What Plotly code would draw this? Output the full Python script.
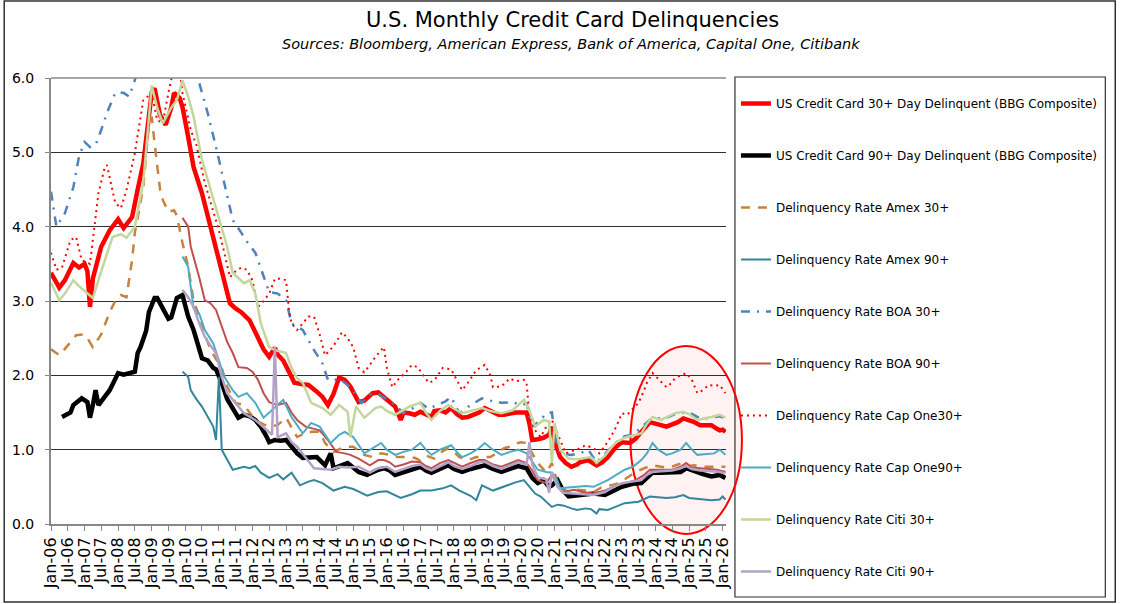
import pandas as pd
import plotly.graph_objects as go

# months counted from Jan-06 (0 = Jan-06, 12 = Jan-07, ...), values in percent
bbg30_m = [0, 3, 5, 8, 10, 12, 13, 14, 15, 18, 21, 24, 26, 29, 31, 33, 36, 37, 39, 41, 43, 44, 46, 47, 49, 51,
           54, 57, 60, 62, 64, 66, 68, 71, 74, 76, 78, 80, 81, 83, 85, 87, 90, 92, 95, 97, 99, 101, 103, 105,
           107, 110, 112, 115, 117, 119, 121, 123, 125, 126, 128, 130, 132, 134, 136, 137, 139, 141, 143, 145,
           147, 149, 151, 153, 155, 157, 160, 162, 164, 166, 168, 170, 171, 172, 174, 176, 178, 179, 180, 182,
           184, 186, 188, 189, 192, 195, 197, 199, 202, 204, 207, 209, 211, 213, 214, 216, 218, 220, 222, 224,
           226, 228, 230, 232, 234, 236, 238, 239, 240, 241]
bbg30_v = [3.38, 3.18, 3.28, 3.51, 3.45, 3.5, 3.4, 2.92, 3.3, 3.73, 3.95, 4.1, 3.98, 4.13, 4.5, 4.85, 5.81, 5.86,
           5.5, 5.37, 5.6, 5.8, 5.73, 5.61, 5.21, 4.8, 4.45, 4.0, 3.6, 3.3, 2.97, 2.9, 2.85, 2.74, 2.5, 2.35, 2.25,
           2.37, 2.28, 2.2, 2.05, 1.9, 1.88, 1.87, 1.78, 1.71, 1.6, 1.75, 1.97, 1.94, 1.85, 1.64, 1.66, 1.76,
           1.77, 1.71, 1.65, 1.58, 1.40, 1.5, 1.49, 1.47, 1.51, 1.47, 1.44, 1.52, 1.53, 1.5, 1.56, 1.48, 1.43,
           1.44, 1.47, 1.5, 1.56, 1.52, 1.47, 1.47, 1.49, 1.5, 1.5, 1.5, 1.35, 1.13, 1.14, 1.16, 1.2, 1.31, 1.1,
           0.90, 0.82, 0.77, 0.8, 0.83, 0.86, 0.79, 0.83, 0.9, 1.04, 1.1, 1.09, 1.15, 1.24, 1.32, 1.37, 1.35,
           1.33, 1.31, 1.34, 1.37, 1.42, 1.4, 1.37, 1.33, 1.33, 1.33, 1.28, 1.26, 1.27, 1.24]

bbg90_m = [4, 5, 7, 8, 10, 11, 13, 14, 15, 16, 17, 19, 21, 23, 24, 26, 28, 30, 31, 32, 34, 35, 37, 38, 40, 42,
           43, 45, 47, 49, 51, 52, 54, 56, 58, 59, 61, 63, 65, 67, 69, 71, 73, 75, 77, 78, 80, 82, 84, 86, 88,
           90, 93, 95, 98, 100, 101, 103, 106, 108, 110, 113, 115, 117, 119, 121, 123, 126, 129, 132, 134, 136,
           139, 142, 144, 147, 150, 153, 155, 158, 161, 164, 167, 170, 172, 174, 176, 178, 179, 181, 183, 185,
           188, 190, 194, 198, 201, 204, 206, 208, 211, 213, 215, 218, 220, 223, 225, 227, 229, 231, 233, 236,
           238, 239, 241]
bbg90_v = [1.44, 1.46, 1.5, 1.6, 1.65, 1.69, 1.64, 1.43, 1.6, 1.8, 1.6, 1.7, 1.8, 1.95, 2.03, 2.01, 2.03, 2.05,
           2.3, 2.38, 2.6, 2.85, 3.04, 3.04, 2.9, 2.76, 2.78, 3.04, 3.08, 2.79, 2.61, 2.5, 2.23, 2.2, 2.1, 2.08,
           1.9, 1.68, 1.55, 1.43, 1.47, 1.45, 1.4, 1.31, 1.18, 1.1, 1.13, 1.12, 1.13, 1.05, 0.95, 0.89, 0.9, 0.9,
           0.79, 0.95, 0.75, 0.78, 0.82, 0.76, 0.70, 0.66, 0.70, 0.73, 0.75, 0.72, 0.66, 0.7, 0.73, 0.77, 0.72,
           0.69, 0.74, 0.79, 0.74, 0.7, 0.74, 0.77, 0.79, 0.74, 0.7, 0.74, 0.78, 0.75, 0.62, 0.55, 0.59, 0.5,
           0.52, 0.59, 0.45, 0.37, 0.38, 0.39, 0.41, 0.39, 0.45, 0.5, 0.52, 0.54, 0.55, 0.62, 0.69, 0.69, 0.69,
           0.69, 0.7, 0.75, 0.72, 0.69, 0.67, 0.64, 0.65, 0.66, 0.62]

amex30_m = [0, 3, 6, 9, 12, 13, 15, 18, 21, 23, 25, 27, 28, 29, 30, 33, 35, 36, 37, 39, 40, 42, 44, 45, 47, 49,
            51, 53, 55, 57, 59, 61, 63, 66, 69, 71, 73, 76, 78, 81, 84, 86, 88, 91, 93, 96, 98, 101, 105, 108,
            112, 115, 118, 121, 124, 127, 130, 132, 134, 137, 140, 142, 144, 146, 149, 152, 154, 157, 160, 162,
            164, 166, 168, 170, 172, 174, 177, 179, 181, 182, 185, 188, 191, 194, 197, 200, 203, 206, 209, 212,
            215, 218, 221, 224, 226, 228, 230, 233, 236, 239, 241]
amex30_v = [2.35, 2.27, 2.4, 2.54, 2.55, 2.5, 2.38, 2.55, 2.85, 3.0, 3.08, 3.05, 3.3, 3.55, 3.92, 4.53, 5.39,
            5.48, 5.12, 4.5, 4.36, 4.2, 4.22, 4.15, 3.78, 3.46, 3.0, 2.8, 2.55, 2.35, 2.22, 2.1, 1.85, 1.63, 1.6,
            1.5, 1.4, 1.34, 1.31, 1.33, 1.43, 1.3, 1.17, 1.22, 1.24, 1.24, 1.09, 0.97, 1.04, 1.04, 0.93, 0.9,
            0.95, 0.93, 0.9, 0.9, 0.89, 0.85, 0.92, 0.88, 0.98, 1.02, 0.97, 0.9, 0.86, 0.9, 0.9, 0.9, 0.97, 1.02,
            1.04, 1.08, 1.1, 1.09, 0.95, 0.82, 0.69, 0.82, 0.55, 0.46, 0.44, 0.46, 0.45, 0.43, 0.5, 0.52, 0.55,
            0.62, 0.7, 0.75, 0.79, 0.77, 0.76, 0.8, 0.82, 0.78, 0.79, 0.77, 0.77, 0.76, 0.77]

amex90_m = [47, 49, 50, 52, 54, 56, 58, 59, 60, 61, 63, 65, 67, 69, 71, 73, 75, 78, 81, 83, 86, 89, 92, 94, 97,
            101, 105, 108, 111, 113, 117, 120, 125, 129, 132, 136, 140, 143, 146, 150, 152, 154, 158, 163, 166,
            169, 171, 173, 175, 177, 179, 181, 183, 186, 188, 191, 193, 195, 196, 199, 202, 205, 210, 214, 217,
            220, 223, 226, 228, 232, 236, 239, 240, 241]
amex90_v = [2.05, 1.98, 1.8, 1.68, 1.58, 1.45, 1.31, 1.13, 1.98, 1.0, 0.86, 0.73, 0.75, 0.77, 0.75, 0.78, 0.69,
            0.62, 0.67, 0.6, 0.69, 0.52, 0.57, 0.59, 0.55, 0.45, 0.5, 0.47, 0.42, 0.38, 0.43, 0.44, 0.35, 0.4,
            0.45, 0.45, 0.48, 0.52, 0.45, 0.38, 0.32, 0.52, 0.45, 0.52, 0.56, 0.59, 0.5, 0.41, 0.37, 0.3, 0.23,
            0.26, 0.25, 0.21, 0.19, 0.21, 0.2, 0.14, 0.2, 0.19, 0.23, 0.28, 0.3, 0.37, 0.36, 0.35, 0.36, 0.39,
            0.35, 0.34, 0.32, 0.33, 0.37, 0.33]

boa30_m = [0, 2, 5, 8, 10, 12, 14, 16, 18, 20, 23, 26, 28, 30, 32, 36, 40, 44, 48, 51, 53, 56, 59, 62, 65, 68,
           70, 73, 76, 78, 81, 84, 86, 90, 94, 97, 99, 101, 103, 107, 111, 114, 117, 120, 123, 126, 129, 132,
           135, 138, 141, 143, 146, 150, 154, 157, 161, 165, 168, 170, 172, 175, 177, 179, 180, 182, 186, 189,
           192, 195, 199, 202, 205, 208, 211, 214, 217, 220, 223, 226, 228, 231, 234, 237, 239, 241]
boa30_v = [4.47, 4.0, 4.18, 4.53, 4.94, 5.14, 5.07, 5.1, 5.3, 5.53, 5.8, 5.8, 5.75, 5.97, 6.3, 6.8, 7.0, 6.9,
           6.6, 6.2, 5.93, 5.53, 5.07, 4.59, 4.09, 3.92, 3.8, 3.65, 3.32, 3.12, 3.1, 3.01, 2.7, 2.61, 2.34, 2.16,
           1.94, 1.93, 1.96, 1.84, 1.63, 1.74, 1.75, 1.68, 1.6, 1.49, 1.55, 1.63, 1.55, 1.6, 1.65, 1.71, 1.49,
           1.6, 1.69, 1.66, 1.63, 1.64, 1.6, 1.62, 1.31, 1.4, 1.49, 1.5, 1.2, 0.95, 0.93, 0.95, 1.0, 0.83, 0.98,
           1.1, 1.18, 1.2, 1.3, 1.4, 1.42, 1.43, 1.48, 1.5, 1.5, 1.44, 1.42, 1.44, 1.45, 1.42]

boa90_m = [47, 49, 50, 53, 55, 57, 59, 61, 63, 65, 67, 70, 72, 74, 76, 78, 81, 84, 86, 88, 91, 94, 96, 99, 102,
           105, 107, 110, 112, 114, 117, 119, 121, 123, 126, 129, 132, 134, 136, 139, 142, 144, 147, 150, 153,
           155, 158, 161, 164, 167, 170, 172, 174, 177, 179, 181, 183, 187, 190, 194, 198, 202, 205, 209, 212,
           214, 218, 222, 225, 227, 229, 232, 235, 238, 241]
boa90_v = [4.12, 4.0, 3.73, 3.32, 3.01, 2.97, 2.88, 2.65, 2.45, 2.3, 2.11, 2.1, 2.05, 1.94, 1.76, 1.64, 1.6,
           1.63, 1.5, 1.4, 1.31, 1.28, 1.26, 1.13, 0.97, 0.95, 0.93, 0.88, 0.83, 0.79, 0.86, 0.86, 0.83, 0.77,
           0.8, 0.84, 0.83, 0.78, 0.75, 0.82, 0.86, 0.82, 0.77, 0.82, 0.86, 0.86, 0.8, 0.77, 0.82, 0.86, 0.82,
           0.72, 0.59, 0.55, 0.66, 0.52, 0.43, 0.46, 0.43, 0.41, 0.45, 0.52, 0.55, 0.59, 0.66, 0.73, 0.73, 0.73,
           0.77, 0.82, 0.76, 0.75, 0.74, 0.73, 0.7]

cap30_m = [0, 2, 4, 7, 9, 11, 14, 17, 19, 20, 23, 25, 27, 30, 33, 36, 38, 40, 42, 44, 46, 47, 50, 52, 55, 58,
           60, 62, 64, 66, 68, 70, 72, 74, 76, 78, 80, 82, 84, 85, 86, 88, 90, 92, 94, 96, 98, 100, 102, 104,
           106, 108, 110, 112, 114, 116, 118, 119, 120, 122, 124, 127, 129, 131, 133, 135, 137, 140, 143, 145,
           147, 149, 152, 155, 157, 158, 161, 164, 166, 169, 170, 171, 173, 175, 177, 179, 181, 184, 186, 188,
           191, 194, 196, 198, 200, 202, 204, 206, 208, 210, 212, 213, 215, 217, 218, 220, 221, 223, 225, 227,
           229, 231, 233, 235, 237, 239, 241]
cap30_v = [3.65, 3.42, 3.45, 3.82, 3.86, 3.55, 3.5, 4.45, 4.76, 4.83, 4.32, 4.25, 4.49, 4.99, 5.7, 5.8, 5.43,
           5.4, 5.8, 6.15, 6.1, 5.8, 5.3, 5.1, 4.59, 4.22, 3.95, 3.65, 3.32, 3.4, 3.45, 3.42, 3.28, 2.92, 3.0,
           3.1, 3.3, 3.3, 3.28, 2.88, 2.7, 2.61, 2.7, 2.79, 2.79, 2.55, 2.27, 2.35, 2.45, 2.58, 2.5, 2.38, 2.1,
           2.04, 2.14, 2.25, 2.34, 2.38, 2.11, 1.84, 1.94, 2.05, 2.14, 2.11, 2.0, 1.9, 1.93, 2.1, 2.08, 1.94,
           1.8, 1.9, 2.07, 2.14, 2.0, 1.84, 1.85, 1.96, 1.92, 1.94, 1.9, 1.44, 1.26, 1.17, 1.31, 1.4, 1.22, 0.95,
           0.98, 1.0, 1.06, 1.02, 0.95, 1.05, 1.17, 1.31, 1.49, 1.47, 1.55, 1.63, 1.8, 1.9, 2.03, 1.95, 1.91,
           1.84, 1.87, 1.96, 2.0, 2.03, 1.94, 1.76, 1.8, 1.87, 1.86, 1.87, 1.76]

cap90_m = [47, 49, 50, 51, 53, 55, 58, 60, 62, 65, 67, 70, 73, 76, 79, 83, 86, 90, 93, 96, 100, 103, 105, 108,
           112, 116, 118, 120, 123, 126, 129, 132, 134, 136, 139, 143, 145, 147, 150, 153, 155, 158, 161, 164,
           167, 170, 172, 174, 177, 179, 181, 182, 185, 188, 191, 194, 197, 199, 202, 205, 208, 211, 213, 215,
           217, 220, 222, 225, 227, 229, 231, 234, 237, 239, 241]
cap90_v = [3.6, 3.46, 3.19, 2.9, 2.83, 2.61, 2.43, 2.2, 1.98, 1.8, 1.71, 1.76, 1.63, 1.43, 1.53, 1.67, 1.44,
           1.22, 1.36, 1.31, 1.09, 1.2, 1.24, 1.17, 0.95, 1.04, 1.09, 1.0, 0.93, 0.97, 1.0, 1.09, 1.0, 0.93, 1.0,
           1.06, 0.97, 0.9, 0.95, 1.02, 1.09, 1.0, 0.93, 0.97, 1.0, 0.95, 0.84, 0.73, 0.7, 0.69, 0.58, 0.48,
           0.49, 0.5, 0.51, 0.5, 0.55, 0.59, 0.66, 0.73, 0.77, 0.86, 0.95, 1.09, 1.0, 0.93, 0.95, 1.0, 1.09, 1.0,
           0.93, 0.94, 0.95, 1.0, 0.93]

citi30_m = [0, 3, 5, 8, 10, 13, 15, 18, 22, 25, 27, 30, 33, 36, 38, 40, 43, 45, 47, 49, 51, 54, 56, 59, 63, 65,
            69, 71, 73, 75, 78, 80, 84, 86, 88, 90, 93, 97, 100, 103, 106, 107, 109, 112, 116, 118, 120, 123,
            126, 128, 132, 134, 136, 139, 142, 144, 147, 150, 154, 157, 161, 165, 169, 171, 173, 176, 178, 179,
            180, 182, 185, 188, 191, 193, 195, 198, 200, 202, 205, 208, 211, 213, 215, 218, 221, 223, 226, 228,
            231, 234, 236, 239, 241]
citi30_v = [3.25, 3.01, 3.1, 3.28, 3.2, 3.1, 3.04, 3.4, 3.86, 3.9, 3.85, 4.0, 4.6, 5.9, 5.6, 5.39, 5.6, 5.7,
            5.97, 5.75, 5.48, 4.9, 4.63, 4.22, 3.73, 3.38, 3.24, 3.28, 3.1, 2.7, 2.38, 2.34, 2.3, 2.1, 1.96, 1.9,
            1.63, 1.56, 1.47, 1.6, 1.51, 1.17, 1.58, 1.43, 1.56, 1.58, 1.52, 1.47, 1.53, 1.58, 1.63, 1.5, 1.4,
            1.52, 1.6, 1.55, 1.49, 1.52, 1.56, 1.52, 1.49, 1.53, 1.67, 1.53, 1.31, 1.4, 1.38, 0.83, 1.36, 1.0,
            0.88, 0.87, 0.89, 0.9, 0.82, 0.92, 1.02, 1.1, 1.16, 1.19, 1.22, 1.35, 1.44, 1.40, 1.45, 1.49, 1.51,
            1.48, 1.40, 1.42, 1.44, 1.47, 1.43]

citi90_m = [47, 49, 51, 53, 55, 57, 59, 61, 63, 66, 69, 73, 77, 79, 80, 81, 84, 86, 88, 91, 94, 97, 100, 103,
            106, 110, 114, 117, 120, 123, 126, 129, 132, 134, 136, 139, 142, 144, 147, 150, 153, 155, 158, 161,
            164, 167, 170, 171, 172, 174, 177, 178, 179, 181, 183, 187, 190, 194, 198, 201, 204, 208, 211, 213,
            215, 218, 222, 225, 227, 229, 232, 236, 239, 241]
citi90_v = [3.15, 3.05, 2.92, 2.7, 2.52, 2.4, 2.3, 1.98, 1.76, 1.63, 1.49, 1.4, 1.26, 1.2, 2.38, 1.17, 1.22, 1.1,
            1.04, 0.89, 0.75, 0.74, 0.73, 0.77, 0.76, 0.77, 0.69, 0.75, 0.77, 0.7, 0.74, 0.78, 0.8, 0.75, 0.72,
            0.78, 0.83, 0.78, 0.74, 0.78, 0.83, 0.84, 0.78, 0.74, 0.79, 0.83, 0.8, 1.1, 0.8, 0.63, 0.6, 0.42, 0.7,
            0.5, 0.42, 0.41, 0.4, 0.39, 0.43, 0.5, 0.55, 0.57, 0.59, 0.66, 0.7, 0.71, 0.72, 0.75, 0.78, 0.74,
            0.72, 0.71, 0.7, 0.68]

tick_months = list(range(0, 241, 6))
tick_text = [("Jan-" if m % 12 == 0 else "Jul-") + f"{(6 + m // 12) % 100:02d}" for m in tick_months]

start = pd.Timestamp("2006-01-01")


def to_dates(months):
    return [start + pd.DateOffset(months=m) for m in months]


series = [
    ("US Credit Card 30+ Day Delinquent (BBG Composite)", bbg30_m, bbg30_v, "#FF0000", 4.5, "solid"),
    ("US Credit Card 90+ Day Delinquent (BBG Composite)", bbg90_m, bbg90_v, "#000000", 4.5, "solid"),
    ("Delinquency Rate Amex 30+", amex30_m, amex30_v, "#C8823E", 2.5, "9px,8px"),
    ("Delinquency Rate Amex 90+", amex90_m, amex90_v, "#31859C", 2, "solid"),
    ("Delinquency Rate BOA 30+", boa30_m, boa30_v, "#4F81BD", 2.5, "9px,7px,2px,7px"),
    ("Delinquency Rate BOA 90+", boa90_m, boa90_v, "#C0504D", 2, "solid"),
    ("Delinquency Rate Cap One30+", cap30_m, cap30_v, "#FF0000", 2, "2px,4px"),
    ("Delinquency Rate Cap One90+", cap90_m, cap90_v, "#4BACC6", 2, "solid"),
    ("Delinquency Rate Citi 30+", citi30_m, citi30_v, "#C3D69B", 2.5, "solid"),
    ("Delinquency Rate Citi 90+", citi90_m, citi90_v, "#B3A2C7", 2.5, "solid"),
]

fig = go.Figure()
for i, (name, months, vals, color, width, dash) in enumerate(series):
    fig.add_trace(go.Scatter(x=to_dates(months), y=vals, name=name, mode="lines",
                             legendgroup=f"g{i}",
                             line=dict(color=color, width=width, dash=dash)))

# plot area in pixels: x 48..726, y 78..524
L, R, T, B = 48, 726, 78, 524


def px(x):
    return (x - L) / (R - L)


def py(y):
    return (B - y) / (B - T)


fig.update_layout(
    width=1125, height=604,
    margin=dict(l=L, r=1125 - R, t=T, b=604 - B),
    paper_bgcolor="white", plot_bgcolor="white",
    font=dict(family="DejaVu Sans", color="black"),
    showlegend=True,
    legend=dict(x=px(736), y=py(89), xanchor="left", yanchor="top",
                font=dict(size=12), tracegroupgap=33, bgcolor="rgba(0,0,0,0)",
                maxheight=600),
    xaxis=dict(range=[start, pd.Timestamp("2026-02-07")], tickvals=to_dates(tick_months),
               ticktext=tick_text, tickangle=-90, tickfont=dict(size=16),
               showgrid=False, showline=True, linecolor="#888888", linewidth=2,
               ticks="outside", ticklen=5, tickcolor="#888888"),
    yaxis=dict(range=[0, 6], dtick=1, tickformat=".1f", tickfont=dict(size=14),
               showgrid=True, gridcolor="#303030", gridwidth=1, zeroline=False,
               showline=True, linecolor="#888888", linewidth=2,
               ticks="outside", ticklen=4, tickcolor="#888888", ticklabelstandoff=8),
    annotations=[
        dict(text="U.S. Monthly Credit Card Delinquencies", x=px(572), y=py(20), xref="paper", yref="paper",
             showarrow=False, font=dict(size=21), xanchor="center", yanchor="middle"),
        dict(text="<i>Sources: Bloomberg, American Express, Bank of America, Capital One, Citibank</i>",
             x=px(570), y=py(44), xref="paper", yref="paper", showarrow=False,
             font=dict(size=14.5), xanchor="center", yanchor="middle"),
    ],
    shapes=[
        # outer frame
        dict(type="rect", xref="paper", yref="paper", x0=px(1), x1=px(1117), y0=py(602), y1=py(1),
             line=dict(color="#303030", width=1.5), layer="below"),
        # legend box
        dict(type="rect", xref="paper", yref="paper", x0=px(735), x1=px(1107), y0=py(597), y1=py(77),
             line=dict(color="#303030", width=1.2), layer="below"),
        # top line of plot area
        dict(type="line", xref="paper", yref="paper", x0=0, x1=1, y0=1, y1=1,
             line=dict(color="#888888", width=1.5)),
        # highlight ellipse
        dict(type="circle", xref="paper", yref="paper", x0=px(630), x1=px(742), y0=py(534), y1=py(346),
             line=dict(color="#FF0000", width=2), fillcolor="rgba(255,0,0,0.05)", layer="below"),
    ],
)

fig.write_html("out.html", config={"displayModeBar": False},
               post_script="document.body.style.margin='0';")
